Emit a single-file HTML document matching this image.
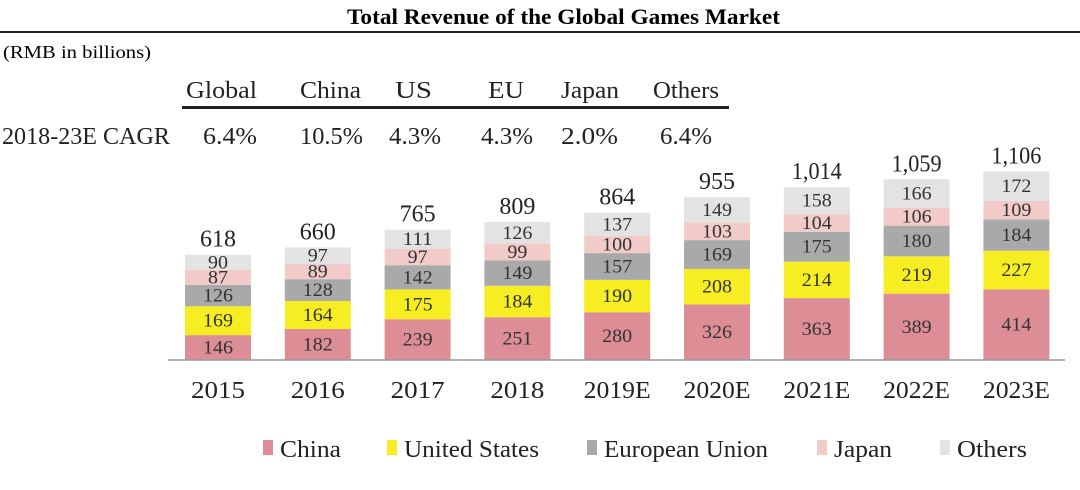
<!DOCTYPE html>
<html><head><meta charset="utf-8"><style>
body{margin:0;background:#fff;width:1080px;height:490px;overflow:hidden;font-family:"Liberation Serif",serif;}
svg{display:block}
</style></head><body>
<svg id="chart" width="1080" height="490" xmlns="http://www.w3.org/2000/svg" font-family="Liberation Serif, serif">
<text x="347" y="24" font-size="22" font-weight="bold" textLength="433" lengthAdjust="spacingAndGlyphs">Total Revenue of the Global Games Market</text>
<rect x="0" y="31" width="1080" height="2" fill="#222"/>
<text x="3" y="58" font-size="18" textLength="148" lengthAdjust="spacingAndGlyphs">(RMB in billions)</text>
<g font-size="24" fill="#222">
<text x="186" y="98" textLength="71" lengthAdjust="spacingAndGlyphs">Global</text>
<text x="300" y="98" textLength="61" lengthAdjust="spacingAndGlyphs">China</text>
<text x="395" y="98" textLength="37" lengthAdjust="spacingAndGlyphs">US</text>
<text x="488" y="98" textLength="36" lengthAdjust="spacingAndGlyphs">EU</text>
<text x="561" y="98" textLength="58" lengthAdjust="spacingAndGlyphs">Japan</text>
<text x="653" y="98" textLength="66" lengthAdjust="spacingAndGlyphs">Others</text>
<rect x="182" y="106" width="547" height="3" fill="#222"/>
<text x="2" y="144" textLength="168" lengthAdjust="spacingAndGlyphs">2018-23E CAGR</text>
<text x="203" y="144" textLength="54" lengthAdjust="spacingAndGlyphs">6.4%</text>
<text x="300" y="144" textLength="63" lengthAdjust="spacingAndGlyphs">10.5%</text>
<text x="389" y="144" textLength="52" lengthAdjust="spacingAndGlyphs">4.3%</text>
<text x="481" y="144" textLength="52" lengthAdjust="spacingAndGlyphs">4.3%</text>
<text x="561" y="144" textLength="57" lengthAdjust="spacingAndGlyphs">2.0%</text>
<text x="660" y="144" textLength="52" lengthAdjust="spacingAndGlyphs">6.4%</text>
</g>
<g id="bars"></g>
<line x1="168" y1="360" x2="1065" y2="360" stroke="#999" stroke-width="1.5"/>
<g id="legend"></g>
</svg>
<script>
const categories=["2015","2016","2017","2018","2019E","2020E","2021E","2022E","2023E"];
const china=[146,182,239,251,280,326,363,389,414];
const us=[169,164,175,184,190,208,214,219,227];
const eu=[126,128,142,149,157,169,175,180,184];
const japan=[87,89,97,99,100,103,104,106,109];
const others=[90,97,111,126,137,149,158,166,172];
const totals=["618","660","765","809","864","955","1,014","1,059","1,106"];
const seriesNames=["China","United States","European Union","Japan","Others"];
const colors=["#dc8d96","#f6ee22","#a9a9a9","#f2cbc9","#e3e3e3"];
const series=[china,us,eu,japan,others];
const NS="http://www.w3.org/2000/svg";
const base=360,scale=0.1705,x0=218,step=99.8,bw=66;
const y=v=>base-v*scale, x=i=>x0+i*step;
const g=document.getElementById('bars');
function mk(t,a,p){const e=document.createElementNS(NS,t);for(const k in a)e.setAttribute(k,a[k]);p.appendChild(e);return e;}
categories.forEach((c,i)=>{
  let cum=0;
  series.forEach((s,j)=>{
    const v=s[i];
    const r=mk('rect',{x:x(i)-bw/2,y:y(cum+v),width:bw,height:v*scale,fill:colors[j]},g);
    
    
    const s2=String(v);
    const t=mk('text',{x:x(i),y:y(cum+v/2)+6,'font-size':19,'text-anchor':'middle',fill:'#333',textLength:s2.length*10,lengthAdjust:'spacingAndGlyphs'},g);
    
    
    t.textContent=v;
    cum+=v;
  });
  const tt=mk('text',{x:x(i),y:y(cum)-8,'font-size':24,'text-anchor':'middle',fill:'#222',textLength:totals[i].length>3?50:36,lengthAdjust:'spacingAndGlyphs'},g);
  
  
  tt.textContent=totals[i];
  const xl=mk('text',{x:x(i),y:398,'font-size':24,'text-anchor':'middle',fill:'#222',textLength:c.length>4?67:54,lengthAdjust:'spacingAndGlyphs'},g);
  
  
  xl.textContent=c;
});
const lg=document.getElementById('legend');
const lx=[263,387,587,817,940];
const lw=[61,135,164,58,70];
seriesNames.forEach((n,j)=>{
  const r=mk('rect',{x:lx[j],y:440,width:10,height:15,fill:colors[j]},lg);
  
  
  const t=mk('text',{x:lx[j]+17,y:457,'font-size':24,fill:'#222',textLength:lw[j],lengthAdjust:'spacingAndGlyphs'},lg);
  
  
  t.textContent=n;
});
</script>
</body></html>
